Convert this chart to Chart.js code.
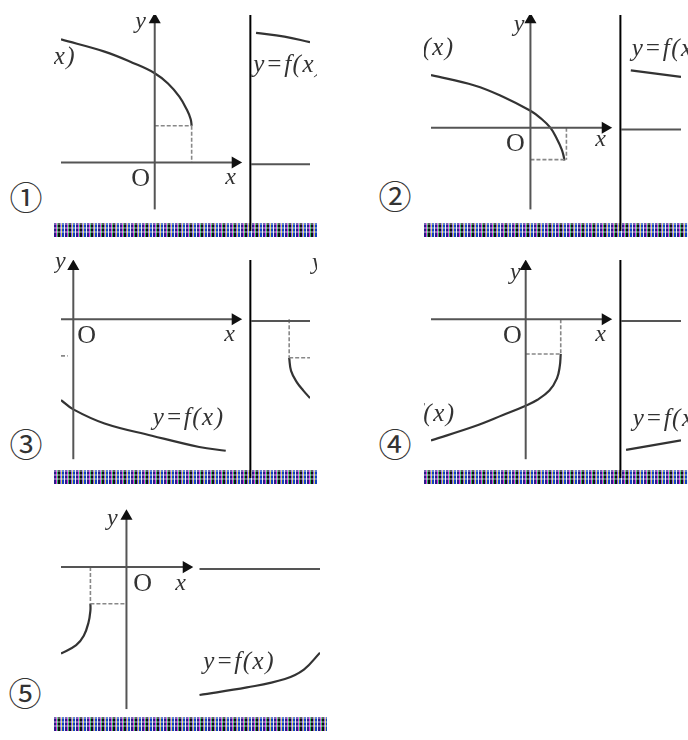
<!DOCTYPE html>
<html>
<head>
<meta charset="utf-8">
<script src="https://cdn.jsdelivr.net/npm/chart.js@4.4.0/dist/chart.umd.min.js"></script>
<style>
  html, body { margin: 0; padding: 0; background: #fff; }
  body { position: relative; width: 688px; height: 740px; overflow: hidden; }
  canvas.panel { position: absolute; }
  .num {
    position: absolute; transform: translate(-50%, -50%);
    font: 33px "Noto Sans CJK JP", "DejaVu Sans", sans-serif; line-height: 1; color: #333;
  }
  .noise {
    position: absolute; height: 14px;
    background:
      repeating-linear-gradient(90deg, #2a1a8a 0 2px, #e040e0 2px 3px, #30c070 3px 4px, #111 4px 6px, #7a5cff 6px 7px, #d8d060 7px 8px, #1040c0 8px 10px, #eee 10px 11px),
      #333;
  }
  .noise::after {
    content: ""; position: absolute; left: 0; right: 0; top: 0; height: 10px;
    background: repeating-linear-gradient(0deg, rgba(255,255,255,0.35) 0 2px, rgba(0,0,0,0) 2px 4px);
  }
</style>
</head>
<body>
<span class="num" style="left:26px;top:196px">①</span>
<span class="num" style="left:395px;top:195px">②</span>
<span class="num" style="left:26px;top:443px">③</span>
<span class="num" style="left:395px;top:443px">④</span>
<span class="num" style="left:25px;top:692px">⑤</span>

<div class="noise" style="left:54px;top:223px;width:263px"></div>
<div class="noise" style="left:424px;top:223px;width:264px"></div>
<div class="noise" style="left:54px;top:470px;width:263px"></div>
<div class="noise" style="left:424px;top:470px;width:264px"></div>
<div class="noise" style="left:54px;top:717px;width:273px"></div>

<canvas id="p1" class="panel"></canvas>
<canvas id="p2" class="panel"></canvas>
<canvas id="p3" class="panel"></canvas>
<canvas id="p4" class="panel"></canvas>
<canvas id="p5" class="panel"></canvas>

<script>
// ---- data (1 unit = 10px, origin at each O) ----

// panel 1
const p1CurveX = [-9.9, -5.3, -2.3, 0, 1.4, 2.6, 3.4, 3.8, 3.9];
const p1CurveY = [13.1, 11.8, 10.6, 9.5, 8.4, 7.0, 5.6, 4.6, 3.9];
const p1RightX = [10.7, 13.7, 16.4];
const p1RightY = [13.8, 13.4, 12.8];
const p1Corner = [3.9, 3.9];

// panel 2
const p2CurveX = [-10.5, -5.9, -2.9, 0, 1.1, 2.1, 2.8, 3.3, 3.5, 3.6];
const p2CurveY = [5.6, 4.5, 3.3, 1.8, 1.0, 0, -1.2, -2.3, -3.0, -3.5];
const p2RightX = [10.6, 15.9];
const p2RightY = [6.1, 5.4];
const p2Corner = [3.6, -3.4];
const p2DashX = 3.8;

// panel 3
const p3CurveX = [-1.3, 0, 3.3, 8.3, 13.3, 16.1];
const p3CurveY = [-8.6, -9.6, -11.1, -12.4, -13.6, -14.0];
const p3RightX = [22.8, 23.0, 23.6, 24.3, 25.0];
const p3RightY = [-4.1, -5.5, -6.7, -7.6, -8.4];
const p3Corner = [22.8, -4.1];

// panel 4
const p4CurveX = [-10.0, -5.4, -2.4, 0, 1.2, 2.5, 3.3, 3.6, 3.7];
const p4CurveY = [-12.9, -11.4, -10.2, -9.2, -8.6, -7.6, -6.3, -5.0, -3.7];
const p4RightX = [10.6, 16.4];
const p4RightY = [-13.9, -12.9];
const p4Corner = [3.7, -3.7];

// panel 5
const p5LeftX = [-6.9, -5.3, -4.5, -4.0, -3.8, -3.8];
const p5LeftY = [-9.2, -8.3, -7.3, -5.9, -4.6, -3.9];
const p5RightX = [7.7, 12.7, 16.7, 18.7, 20.4];
const p5RightY = [-13.6, -12.8, -11.9, -10.9, -9.1];
const p5Corner = [-3.8, -3.9];

// ---------------------------------------------------------------------

const INK = "#333";
const AXIS = "#555";
const DASH = "#888";
const SERIF = "'Liberation Serif', 'DejaVu Serif', serif";

const pts = (xs, ys) => xs.map((x, i) => ({ x, y: ys[i] }));

function curve(xs, ys) {
  return { data: pts(xs, ys), borderColor: INK, borderWidth: 2.2, tension: 0.4, pointRadius: 0 };
}

// axis line with an arrow head on its last point
function axis(from, to, rot) {
  return {
    data: [from, to], borderColor: AXIS, borderWidth: 2, pointRadius: [0, 5],
    pointStyle: "triangle", pointRotation: [0, rot], pointBackgroundColor: "#111", pointBorderColor: "#111"
  };
}

function plain(from, to, color, width) {
  return { data: [from, to], borderColor: color, borderWidth: width, pointRadius: 0 };
}

function dashed(from, to) {
  return { data: [from, to], borderColor: DASH, borderWidth: 1.6, borderDash: [4, 2], pointRadius: 0 };
}

// draws labels at data positions
const labelPlugin = {
  id: "labels",
  afterDatasetsDraw(chart, args, opts) {
    const { ctx, scales } = chart;
    ctx.save();
    ctx.fillStyle = "#333";
    ctx.textBaseline = "middle";
    (opts.items || []).forEach((l) => {
      ctx.font = l.font;
      ctx.textAlign = l.align || "center";
      ctx.letterSpacing = l.spacing || "0px";
      ctx.fillText(l.text, scales.x.getPixelForValue(l.x), scales.y.getPixelForValue(l.y));
    });
    ctx.restore();
  }
};

const FX = "italic 25px " + SERIF;
const O = "26px " + SERIF;
const XY = "italic 24px " + SERIF;
const SP = "1.5px";

function makePanel(id, box, xr, yr, datasets, labels) {
  const el = document.getElementById(id);
  el.style.left = box[0] + "px";
  el.style.top = box[1] + "px";
  el.width = box[2];
  el.height = box[3];
  new Chart(el, {
    type: "scatter",
    data: { datasets: datasets.map((d) => ({ showLine: true, fill: false, ...d })) },
    options: {
      responsive: false,
      animation: false,
      events: [],
      layout: { padding: 0 },
      scales: {
        x: { type: "linear", min: xr[0], max: xr[1], display: false },
        y: { type: "linear", min: yr[0], max: yr[1], display: false }
      },
      plugins: { legend: { display: false }, tooltip: { enabled: false }, labels: { items: labels } }
    },
    plugins: [labelPlugin]
  });
}

// panel 1
makePanel("p1", [54, 8, 263, 230], [-9.9, 16.4], [-7.3, 15.7], [
  axis({ x: -9.9, y: 0 }, { x: 8.5, y: 0 }, 90),
  axis({ x: 0, y: -5.0 }, { x: 0, y: 15.2 }, 0),
  plain({ x: 10.1, y: -7.3 }, { x: 10.1, y: 15.7 }, "#000", 2),
  plain({ x: 10.2, y: -0.2 }, { x: 16.4, y: -0.2 }, AXIS, 2),
  dashed({ x: 0, y: p1Corner[1] }, { x: p1Corner[0], y: p1Corner[1] }),
  dashed({ x: p1Corner[0], y: p1Corner[1] }, { x: p1Corner[0], y: 0 }),
  curve(p1CurveX, p1CurveY),
  curve(p1RightX, p1RightY)
], [
  { text: "y=f(x)", x: -8.3, y: 11.2, align: "right", font: FX, spacing: SP },
  { text: "y=f(x)", x: 10.4, y: 10.3, align: "left", font: FX, spacing: SP },
  { text: "O", x: -1.5, y: -1.8, font: O },
  { text: "x", x: 8.0, y: -1.6, font: XY },
  { text: "y", x: -1.5, y: 15.0, font: XY }
]);

// panel 2
makePanel("p2", [424, 8, 264, 230], [-10.5, 15.9], [-11.0, 12.0], [
  axis({ x: -10.5, y: 0 }, { x: 7.9, y: 0 }, 90),
  axis({ x: 0, y: -8.7 }, { x: 0, y: 11.5 }, 0),
  plain({ x: 9.5, y: -11.0 }, { x: 9.5, y: 12.0 }, "#000", 2),
  plain({ x: 9.6, y: -0.2 }, { x: 15.9, y: -0.2 }, AXIS, 2),
  dashed({ x: 0, y: p2Corner[1] }, { x: p2Corner[0], y: p2Corner[1] }),
  dashed({ x: p2DashX, y: 0 }, { x: p2DashX, y: p2Corner[1] }),
  curve(p2CurveX, p2CurveY),
  curve(p2RightX, p2RightY)
], [
  { text: "y=f(x)", x: -8.0, y: 8.4, align: "right", font: FX, spacing: SP },
  { text: "y=f(x)", x: 10.7, y: 8.3, align: "left", font: FX, spacing: SP },
  { text: "O", x: -1.6, y: -1.8, font: O },
  { text: "x", x: 7.4, y: -1.3, font: XY },
  { text: "y", x: -1.2, y: 11.0, font: XY }
]);

// panel 3
makePanel("p3", [54, 253, 263, 232], [-1.3, 25.0], [-16.9, 6.3], [
  axis({ x: -1.3, y: 0 }, { x: 17.1, y: 0 }, 90),
  axis({ x: 0, y: -14.9 }, { x: 0, y: 5.6 }, 0),
  plain({ x: 18.7, y: -16.9 }, { x: 18.7, y: 6.3 }, "#000", 2),
  plain({ x: 18.8, y: -0.2 }, { x: 25.0, y: -0.2 }, AXIS, 2),
  dashed({ x: -1.3, y: -3.9 }, { x: -0.6, y: -3.9 }),
  dashed({ x: p3Corner[0], y: 0 }, { x: p3Corner[0], y: p3Corner[1] }),
  dashed({ x: p3Corner[0], y: p3Corner[1] }, { x: 25.0, y: p3Corner[1] }),
  curve(p3CurveX, p3CurveY),
  curve(p3RightX, p3RightY)
], [
  { text: "y=f(x)", x: 8.4, y: -10.6, align: "left", font: FX, spacing: SP },
  { text: "O", x: 1.4, y: -1.8, font: O },
  { text: "x", x: 16.5, y: -1.6, font: XY },
  { text: "y", x: -0.8, y: 6.1, align: "right", font: XY },
  { text: "y", x: 25.2, y: 6.0, align: "left", font: XY }
]);

// panel 4
makePanel("p4", [424, 253, 264, 232], [-10.0, 16.4], [-16.9, 6.3], [
  axis({ x: -10.0, y: 0 }, { x: 8.4, y: 0 }, 90),
  axis({ x: 0, y: -14.9 }, { x: 0, y: 5.6 }, 0),
  plain({ x: 10.0, y: -16.9 }, { x: 10.0, y: 6.3 }, "#000", 2),
  plain({ x: 10.1, y: -0.2 }, { x: 16.4, y: -0.2 }, AXIS, 2),
  dashed({ x: p4Corner[0], y: 0 }, { x: p4Corner[0], y: p4Corner[1] }),
  dashed({ x: 0, y: p4Corner[1] }, { x: p4Corner[0], y: p4Corner[1] }),
  curve(p4CurveX, p4CurveY),
  curve(p4RightX, p4RightY)
], [
  { text: "y=f(x)", x: -7.4, y: -10.1, align: "right", font: FX, spacing: SP },
  { text: "y=f(x)", x: 11.3, y: -10.7, align: "left", font: FX, spacing: SP },
  { text: "O", x: -1.4, y: -1.8, font: O },
  { text: "x", x: 7.9, y: -1.6, font: XY },
  { text: "y", x: -1.1, y: 5.0, font: XY }
]);

// panel 5
makePanel("p5", [54, 498, 273, 235], [-6.9, 20.4], [-16.9, 6.6], [
  axis({ x: -6.9, y: 0 }, { x: 6.3, y: 0 }, 90),
  axis({ x: 0, y: -15.1 }, { x: 0, y: 5.4 }, 0),
  plain({ x: 7.7, y: -0.2 }, { x: 20.4, y: -0.2 }, AXIS, 2),
  dashed({ x: p5Corner[0], y: 0 }, { x: p5Corner[0], y: p5Corner[1] }),
  dashed({ x: p5Corner[0], y: p5Corner[1] }, { x: 0, y: p5Corner[1] }),
  curve(p5LeftX, p5LeftY),
  curve(p5RightX, p5RightY)
], [
  { text: "y=f(x)", x: 8.1, y: -10.1, align: "left", font: FX, spacing: SP },
  { text: "O", x: 1.7, y: -1.8, font: O },
  { text: "x", x: 5.7, y: -1.8, font: XY },
  { text: "y", x: -1.5, y: 5.1, font: XY }
]);
</script>
</body>
</html>
